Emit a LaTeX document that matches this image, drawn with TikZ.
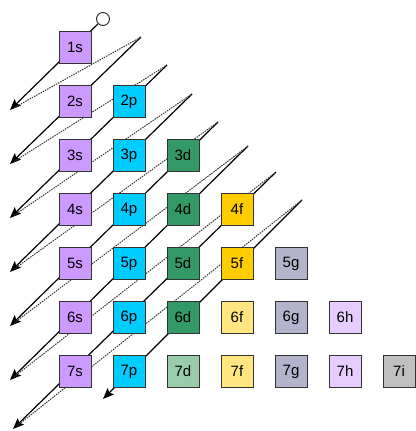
\documentclass[tikz,border=0pt]{standalone}
\usepackage{fontspec}
\setmainfont{Liberation Sans}
\usetikzlibrary{arrows.meta,backgrounds}
\definecolor{cs}{HTML}{CC99FF}
\definecolor{cp}{HTML}{00CCFF}
\definecolor{cd}{HTML}{339966}
\definecolor{cdl}{HTML}{99CCAA}
\definecolor{cf}{HTML}{FFCC00}
\definecolor{cfl}{HTML}{FFE680}
\definecolor{cg}{HTML}{B3B3CC}
\definecolor{ch}{HTML}{E6CCFF}
\definecolor{ci}{HTML}{C0C0C0}
\tikzset{
  orb/.style={draw=black!80, line width=1pt, minimum size=32pt, inner sep=0pt,
    font=\fontsize{15}{17}\selectfont},
  diag/.style={line width=1.2pt, -{Stealth[length=11pt,width=9pt,inset=2pt]}},
  ret/.style={draw=gray!45!black, line width=1pt, dash pattern=on 1.5pt off 1pt, shorten <=5pt},
  startmark/.style={circle, draw=black!85, fill=white, line width=0.9pt, minimum size=13pt, inner sep=0pt}
}
\begin{document}
\begin{tikzpicture}[x=1pt,y=-1pt]
\useasboundingbox (0,0) rectangle (415,431);
% orbitals
\foreach \n/\l/\c/\t in {1/0/cs/1s,
  2/0/cs/2s, 2/1/cp/2p,
  3/0/cs/3s, 3/1/cp/3p, 3/2/cd/3d,
  4/0/cs/4s, 4/1/cp/4p, 4/2/cd/4d, 4/3/cf/4f,
  5/0/cs/5s, 5/1/cp/5p, 5/2/cd/5d, 5/3/cf/5f, 5/4/cg/5g,
  6/0/cs/6s, 6/1/cp/6p, 6/2/cd/6d, 6/3/cfl/6f, 6/4/cg/6g, 6/5/ch/6h,
  7/0/cs/7s, 7/1/cp/7p, 7/2/cdl/7d, 7/3/cfl/7f, 7/4/cg/7g, 7/5/ch/7h, 7/6/ci/7i}
  \node[orb, fill=\c] (o\t) at ({75+54*\l},{47.5+54*(\n-1)}) {\t};
% start marker
\node[startmark] (c1) at (103,19) {};
% start and end points of the diagonals
\coordinate (s2) at (141,37);
\coordinate (s3) at (167,65);
\coordinate (s4) at (192,94);
\coordinate (s5) at (218,122);
\coordinate (s6) at (248,146);
\coordinate (s7) at (276,172);
\coordinate (s8) at (302,200);
\coordinate (e1) at (10,110);
\coordinate (e2) at (10,164);
\coordinate (e3) at (10,218);
\coordinate (e4) at (10,272);
\coordinate (e5) at (10,326);
\coordinate (e6) at (10,380);
\coordinate (e7) at (13,429);
\coordinate (e8) at (103,399);
\begin{scope}[on background layer]
  \draw[diag] (c1) -- (e1);
  \foreach \k in {2,...,8} \draw[diag] (s\k) -- (e\k);
  \foreach \k [evaluate=\k as \j using int(\k+1)] in {1,...,7} \draw[ret] (e\k) -- (s\j);
\end{scope}
\end{tikzpicture}
\end{document}
